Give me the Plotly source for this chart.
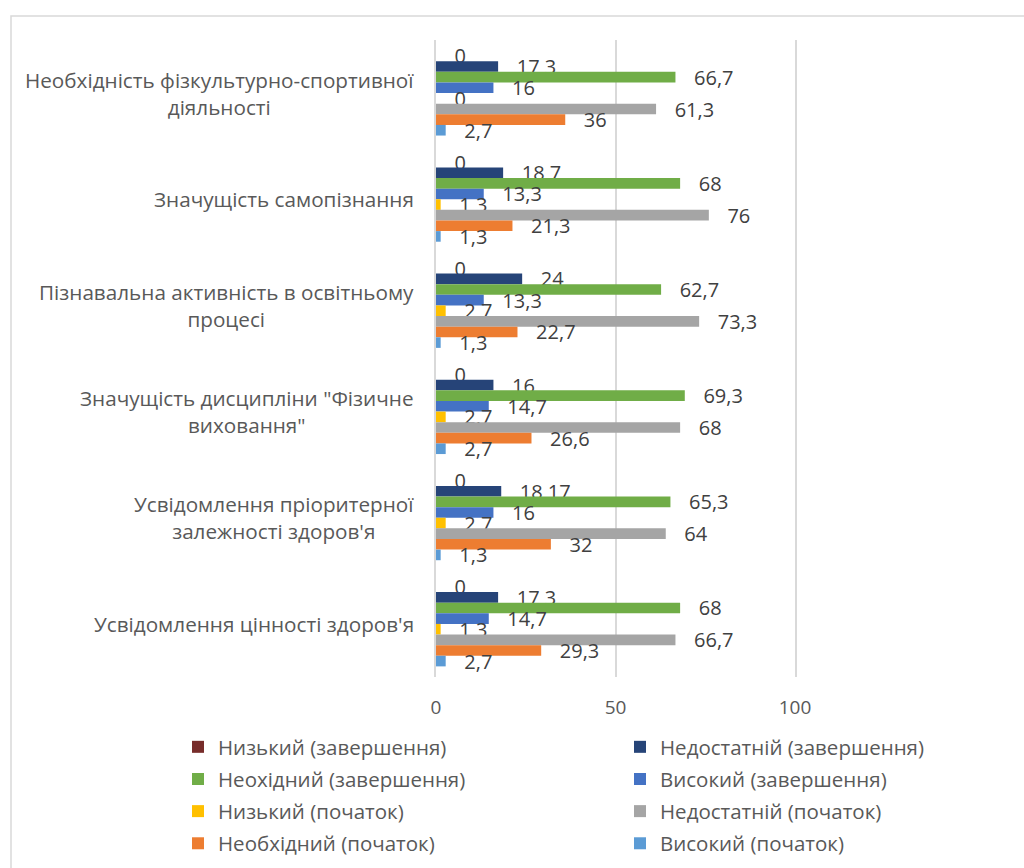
import plotly.graph_objects as go

# Categories, listed from top to bottom
categories = [
    "Необхідність фізкультурно-спортивної<br>діяльності",
    "Значущість самопізнання",
    "Пізнавальна активність в освітньому<br>процесі",
    "Значущість дисципліни \"Фізичне<br>виховання\"",
    "Усвідомлення пріоритерної<br>залежності здоров'я",
    "Усвідомлення цінності здоров'я",
]

series_names = [
    "Низький (завершення)",
    "Недостатній (завершення)",
    "Неохідний (завершення)",
    "Високий (завершення)",
    "Низький (початок)",
    "Недостатній (початок)",
    "Необхідний (початок)",
    "Високий (початок)",
]

series_colors = [
    "#772C2A", "#264478", "#70AD47", "#4472C4",
    "#FFC000", "#A5A5A5", "#ED7D31", "#5B9BD5",
]

# Values per series, in category order
low_end = [0, 0, 0, 0, 0, 0]
insufficient_end = [17.3, 18.7, 24, 16, 18.17, 17.3]
necessary_end = [66.7, 68, 62.7, 69.3, 65.3, 68]
high_end = [16, 13.3, 13.3, 14.7, 16, 14.7]
low_start = [0, 1.3, 2.7, 2.7, 2.7, 1.3]
insufficient_start = [61.3, 76, 73.3, 68, 64, 66.7]
necessary_start = [36, 21.3, 22.7, 26.6, 32, 29.3]
high_start = [2.7, 1.3, 1.3, 2.7, 1.3, 2.7]

series_values = [
    low_end, insufficient_end, necessary_end, high_end,
    low_start, insufficient_start, necessary_start, high_start,
]

x_ticks = [0, 50, 100]

W, H = 1024, 868
M_L, M_R, M_T, M_B = 436, 229, 40, 191
PW, PH = W - M_L - M_R, H - M_T - M_B

FONT = "Open Sans"
TEXT = "#404040"
LABEL = "#595959"
GRID = "#D9D9D9"


def fmt(v):
    return ("%g" % v).replace(".", ",")


fig = go.Figure()
for i, (name, color, vals) in enumerate(zip(series_names, series_colors, series_values)):
    fig.add_trace(go.Bar(
        name=name,
        orientation="h",
        y=categories,
        x=vals,
        marker=dict(color=color, line=dict(width=0)),
        text=["\u00a0\u00a0\u00a0" + fmt(v) for v in vals],
        textposition="outside",
        constraintext="none",
        cliponaxis=False,
        textfont=dict(family=FONT, size=20, color=TEXT),
        hoverinfo="skip",
        # legend laid out in two columns: even series left, odd series right
        legend="legend" if i % 2 == 0 else "legend2",
        legendgroup=f"s{i}",
    ))

# Category labels, centred lines anchored to the left of the plot area
for cat in categories:
    fig.add_annotation(
        text=cat, x=0, xref="paper", y=cat, yref="y",
        xanchor="right", yanchor="middle", xshift=-20,
        align="center", showarrow=False,
        font=dict(family=FONT, size=20.7, color=LABEL),
    )

# Outer chart border
fig.add_shape(
    type="rect", xref="paper", yref="paper",
    x0=(11 - M_L) / PW, x1=(1040 - M_L) / PW,
    y0=(H - M_B - 16) / PH, y1=(H - M_B - 890) / PH,
    line=dict(color=GRID, width=1.5), fillcolor="rgba(0,0,0,0)",
    layer="below",
)

legend_common = dict(
    orientation="v", yanchor="top", xanchor="left",
    y=-(727 - (H - M_B)) / PH,
    font=dict(family=FONT, size=20.5, color=LABEL),
    traceorder="grouped", tracegroupgap=2.5, bgcolor="rgba(0,0,0,0)",
)

fig.update_layout(
    width=W, height=H,
    margin=dict(l=M_L, r=M_R, t=M_T, b=M_B, autoexpand=False),
    paper_bgcolor="white", plot_bgcolor="white",
    barmode="group", bargap=0.2, bargroupgap=0,
    font=dict(family=FONT, size=19, color=LABEL),
    showlegend=True,
    legend=dict(x=(178 - M_L) / PW, **legend_common),
    legend2=dict(x=(620 - M_L) / PW, **legend_common),
    xaxis=dict(
        range=[0, 100], tickvals=x_ticks, showgrid=True,
        gridcolor=GRID, gridwidth=1.5, zeroline=False, showline=False,
        ticks="", ticklabelstandoff=17,
        tickfont=dict(family=FONT, size=19, color=LABEL),
        fixedrange=True,
    ),
    yaxis=dict(
        autorange="reversed", showticklabels=False, showgrid=False,
        zeroline=False, showline=True, mirror=True,
        linecolor=GRID, linewidth=1.5, ticks="", fixedrange=True,
    ),
)

fig.write_html("out.html")
